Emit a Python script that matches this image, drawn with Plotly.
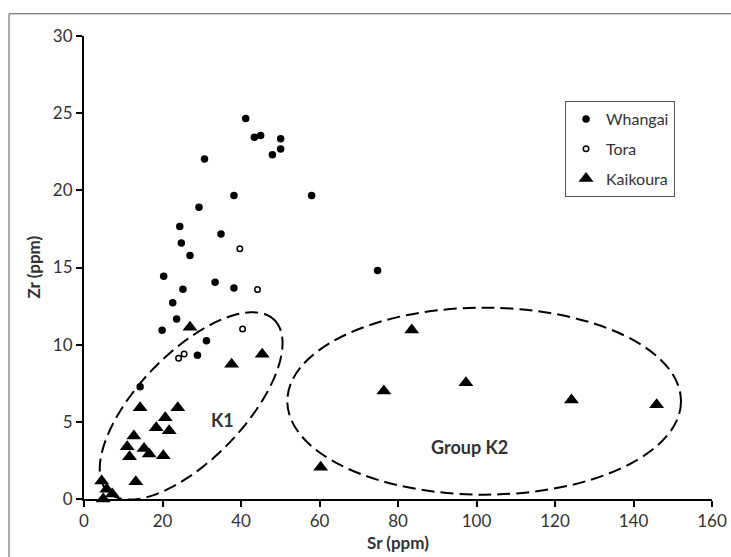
import numpy as np
import plotly.graph_objects as go

# ---- data (Sr, Zr in ppm) ----
whangai_sr = [41.2, 43.4, 45.0, 50.1, 50.1, 48.0, 30.7, 38.2, 58.0, 29.3, 24.4, 34.9, 24.8,
              27.0, 74.8, 20.3, 33.4, 38.2, 25.2, 22.6, 23.6, 19.9, 31.2, 28.9, 14.3]
whangai_zr = [24.66, 23.44, 23.55, 23.35, 22.68, 22.31, 22.03, 19.66, 19.66, 18.9, 17.65, 17.17, 16.59,
              15.77, 14.8, 14.43, 14.04, 13.67, 13.59, 12.72, 11.67, 10.93, 10.26, 9.31, 7.28]

tora_sr = [39.7, 44.2, 40.4, 24.1, 25.5]
tora_zr = [16.22, 13.57, 11.02, 9.12, 9.4]

kaikoura_sr = [27.0, 37.6, 45.4, 14.3, 23.9, 20.7, 18.4, 21.7, 12.7, 11.0, 15.3, 16.6, 11.6,
               20.2, 13.2, 4.5, 5.8, 7.2, 4.9, 60.3, 76.4, 83.5, 97.3, 124.2, 145.9]
kaikoura_zr = [11.13, 8.73, 9.38, 5.92, 5.92, 5.27, 4.62, 4.43, 4.08, 3.39, 3.28, 2.92, 2.74,
               2.81, 1.12, 1.17, 0.63, 0.32, 0.0, 2.05, 7.0, 10.95, 7.54, 6.42, 6.11]

x_ticks = [0, 20, 40, 60, 80, 100, 120, 140, 160]
y_ticks = [0, 5, 10, 15, 20, 25, 30]

x_title = "Sr (ppm)"
y_title = "Zr (ppm)"

# group outlines (data units)
k1_center = (27.3, 6.03)
k1_major = (21.16, 5.58)
k1_minor = (9.72, -2.39)
k2_box = (51.8, 152.1, 0.28, 12.4)  # x0, x1, y0, y1

FONT = "Lato"
TXT = "#333333"

fig = go.Figure()
fig.add_trace(go.Scatter(
    x=whangai_sr, y=whangai_zr, mode="markers", name="Whangai", legendgroup="a",
    marker=dict(symbol="circle", size=7.5, color="black"), cliponaxis=False))
fig.add_trace(go.Scatter(
    x=tora_sr, y=tora_zr, mode="markers", name="Tora", legendgroup="b",
    marker=dict(symbol="circle-open", size=5.5, color="black", line=dict(width=1.5, color="black")),
    cliponaxis=False))
fig.add_trace(go.Scatter(
    x=kaikoura_sr, y=kaikoura_zr, mode="markers", name="Kaikoura", legendgroup="c",
    marker=dict(symbol="triangle-up", size=13, color="black"), cliponaxis=False))

# K1 rotated ellipse
t = np.linspace(0, 2 * np.pi, 161)
ex = k1_center[0] + k1_major[0] * np.cos(t) + k1_minor[0] * np.sin(t)
ey = k1_center[1] + k1_major[1] * np.cos(t) + k1_minor[1] * np.sin(t)
path = "M " + " L ".join(f"{a:.3f},{b:.3f}" for a, b in zip(ex, ey)) + " Z"
dash = "13px,6px"
fig.add_shape(type="path", path=path, xref="x", yref="y",
              line=dict(color="black", width=2, dash=dash))
fig.add_shape(type="circle", xref="x", yref="y",
              x0=k2_box[0], x1=k2_box[1], y0=k2_box[2], y1=k2_box[3],
              line=dict(color="black", width=2, dash=dash))

# outer chart frame
fig.add_shape(type="rect", xref="paper", yref="paper",
              x0=-0.1194, x1=1.05, y0=-0.14, y1=1.048,
              line=dict(color="#555555", width=1), layer="below")

fig.add_annotation(x=35.3, y=5.1, text="<b>K1</b>", showarrow=False,
                   font=dict(family=FONT, size=18, color=TXT))
fig.add_annotation(x=98.3, y=3.39, text="<b>Group K2</b>", showarrow=False,
                   font=dict(family=FONT, size=18, color=TXT))

# axis titles
fig.add_annotation(xref="paper", yref="paper", x=0.5, y=-0.095, yanchor="middle",
                   text=f"<b>{x_title}</b>", showarrow=False,
                   font=dict(family=FONT, size=17, color=TXT))
fig.add_annotation(xref="paper", yref="paper", x=-0.0812, y=0.5, xanchor="center",
                   text=f"<b>{y_title}</b>", textangle=-90, showarrow=False,
                   font=dict(family=FONT, size=17, color=TXT))

axis_common = dict(showgrid=False, zeroline=False, showline=True, linecolor="black",
                   linewidth=2, ticks="outside", ticklen=6, tickwidth=2, tickcolor="black",
                   tickfont=dict(family=FONT, size=17, color=TXT), automargin=False)

fig.update_layout(
    width=731, height=557, autosize=False,
    margin=dict(l=84, r=19, t=36, b=58),
    paper_bgcolor="white", plot_bgcolor="white",
    font=dict(family=FONT, color=TXT),
    xaxis=dict(range=[0, 160], tickvals=x_ticks, ticktext=[str(v) for v in x_ticks],
               **axis_common),
    yaxis=dict(range=[0, 30], tickvals=y_ticks, ticktext=[str(v) for v in y_ticks],
               **axis_common),
    legend=dict(x=0.766, y=0.8596, xanchor="left", yanchor="top",
                bordercolor="#555555", borderwidth=1, bgcolor="white",
                font=dict(family=FONT, size=16, color=TXT),
                traceorder="grouped", tracegroupgap=6),
    showlegend=True,
)

fig.write_html("out.html")
